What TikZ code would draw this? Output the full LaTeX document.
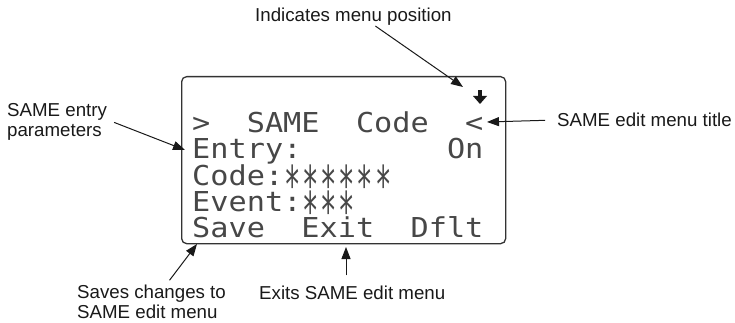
\documentclass[tikz,border=0pt]{standalone}
\usepackage{fontspec}
\usepackage{graphicx}
\setmainfont{Liberation Sans}
\newfontfamily\lcdfont[FakeStretch=1.104]{DejaVu Sans Mono}
\usetikzlibrary{arrows.meta,calc}
\newcommand{\lcdstar}{\makebox[18.2pt]{\raisebox{-18.5pt}[19pt][0pt]{\scalebox{0.9}[1.9]{*}}}}
\begin{document}
\begin{tikzpicture}[x=1pt,y=-1pt,
  lbl/.style={font=\fontsize{18.7}{20}\selectfont, inner sep=0pt, align=left, text=black!90, anchor=base west},
  lcd/.style={font=\lcdfont\fontsize{27.4}{28}\selectfont, inner sep=0pt, anchor=base west, text=black!72, text height=20pt, text depth=2pt},
  arr/.style={line width=1pt, draw=black!90, -{Triangle[length=12pt,width=9pt]}},
]
\useasboundingbox (0,0) rectangle (735,323);
% LCD frame
\node[draw=black!80, line width=1.3pt, rounded corners=5pt, minimum width=324pt, minimum height=167pt, anchor=north west, inner sep=0pt] (frame) at (181,76) {};
% position indicator
\fill[black!90] (478,90) rectangle (482,97);
\fill[black!90] (473,96) -- (487,96) -- (480,104) -- cycle;
% LCD rows
\node[lcd] (r1a) at (192,133) {>};
\node[lcd] (r1b) at (246.6,133) {SAME};
\node[lcd] (r1c) at (355.8,133) {Code};
\node[lcd] (r1d) at (465,133) {<};
\node[lcd] (r2a) at (192,159) {Entry:};
\node[lcd] (r2b) at (446.8,159) {On};
\node[lcd] (r3a) at (192,185) {Code:\lcdstar\lcdstar\lcdstar\lcdstar\lcdstar\lcdstar};
\node[lcd] (r4a) at (192,211) {Event:\lcdstar\lcdstar\lcdstar};
\node[lcd] (r5a) at (192,237) {Save};
\node[lcd] (r5b) at (301.2,237) {Exit};
\node[lcd] (r5c) at (410.4,237) {Dflt};
% labels
\node[lbl] (ind) at (255,22) {Indicates menu position};
\node[lbl] (ent) at (7,137) {SAME entry\\parameters};
\node[lbl] (tit) at (557,127) {SAME edit menu title};
\node[lbl] (sav) at (77,318) {Saves changes to\\SAME edit menu};
\node[lbl] (exi) at (259,299) {Exits SAME edit menu};
% arrow tips
\coordinate (t1) at (463,87);
\coordinate (t2) at (185,150);
\coordinate (t3) at (487,122);
\coordinate (t4) at (197,244);
\coordinate (t5) at (346,247);
% connectors
\draw[arr] ([xshift=22pt]ind.south) -- (t1);
\draw[arr] ([xshift=7pt]ent.east) -- (t2);
\draw[arr] ([xshift=-12pt]tit.west) -- (t3);
\draw[arr] ([xshift=18pt,yshift=4pt]sav.north) -- (t4);
\draw[arr] ($(exi.north -| t5)+(0,-10)$) -- (t5);
\end{tikzpicture}
\end{document}
